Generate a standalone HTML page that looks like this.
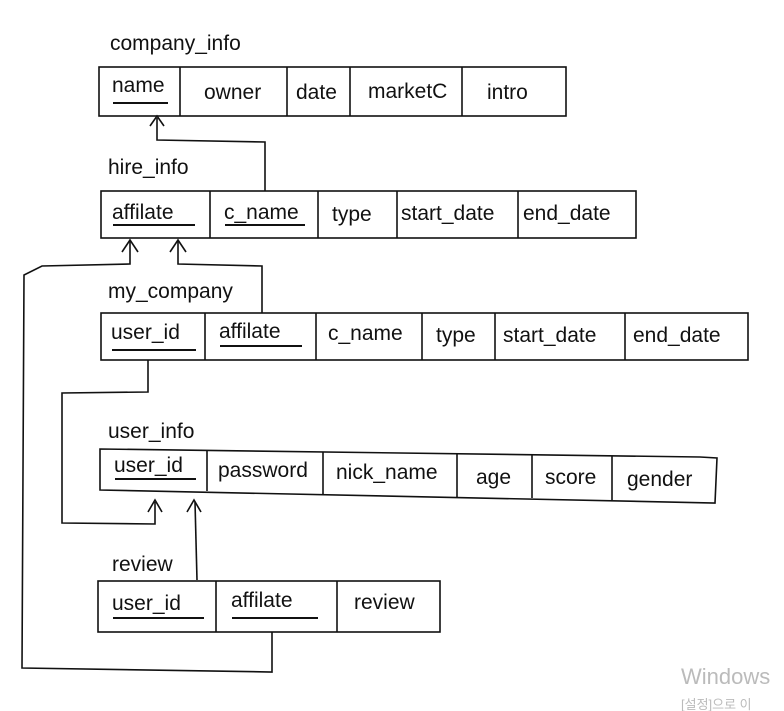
<!DOCTYPE html>
<html><head><meta charset="utf-8"><style>
html,body{margin:0;padding:0;background:#fff;}
svg{display:block}
text{font-family:"Liberation Sans","Noto Sans CJK KR",sans-serif;fill:#111;}
</style></head><body>
<svg width="784" height="711" viewBox="0 0 784 711" xmlns="http://www.w3.org/2000/svg">
<g stroke="#111" stroke-width="1.6" fill="none">
<!-- company_info -->
<rect x="99" y="67" width="467" height="49"/>
<line x1="180" y1="67" x2="180" y2="116"/><line x1="287" y1="67" x2="287" y2="116"/>
<line x1="350" y1="67" x2="350" y2="116"/><line x1="462" y1="67" x2="462" y2="116"/>
<line x1="113" y1="103" x2="168" y2="103" stroke-width="2"/>
<!-- hire_info -->
<rect x="101" y="191" width="535" height="47"/>
<line x1="210" y1="191" x2="210" y2="238"/><line x1="318" y1="191" x2="318" y2="238"/>
<line x1="397" y1="191" x2="397" y2="238"/><line x1="518" y1="191" x2="518" y2="238"/>
<line x1="113" y1="225" x2="195" y2="225" stroke-width="2"/>
<line x1="225" y1="225" x2="305" y2="225" stroke-width="2"/>
<!-- my_company -->
<rect x="101" y="313" width="647" height="47"/>
<line x1="205" y1="313" x2="205" y2="360"/><line x1="316" y1="313" x2="316" y2="360"/>
<line x1="422" y1="313" x2="422" y2="360"/><line x1="495" y1="313" x2="495" y2="360"/>
<line x1="625" y1="313" x2="625" y2="360"/>
<line x1="112" y1="350" x2="196" y2="350" stroke-width="2"/>
<line x1="220" y1="346" x2="302" y2="346" stroke-width="2"/>
<!-- user_info -->
<path d="M100 449 L700 457 L717 458 L715 503 L100 490 Z"/>
<line x1="207" y1="451" x2="207" y2="491"/><line x1="323" y1="452" x2="323" y2="495"/>
<line x1="457" y1="454" x2="457" y2="497"/><line x1="532" y1="455" x2="532" y2="498"/>
<line x1="612" y1="456" x2="612" y2="500"/>
<line x1="115" y1="479" x2="196" y2="479" stroke-width="2"/>
<!-- review -->
<rect x="98" y="581" width="342" height="51"/>
<line x1="216" y1="581" x2="216" y2="632"/><line x1="337" y1="581" x2="337" y2="632"/>
<line x1="113" y1="618" x2="204" y2="618" stroke-width="2"/>
<line x1="232" y1="618" x2="318" y2="618" stroke-width="2"/>
<!-- connectors -->
<polyline points="265,191 265,142 157,140 157,118"/>
<polyline points="150,126 157,116 164,126"/>
<polyline points="262,313 262,266 178,264 178,240"/>
<polyline points="170,252 178,240 186,252"/>
<polyline points="272,632 272,672 22,668 24,275 42,266 130,264 130,240"/>
<polyline points="122,252 130,240 138,252"/>
<polyline points="148,360 148,392 62,393 62,523 155,524 155,502"/>
<polyline points="148,512 155,500 162,512"/>
<polyline points="197,580 195,502"/>
<polyline points="187,512 194,500 201,512"/>
</g>
<g font-size="21">
<text x="110" y="50">company_info</text>
<text x="112" y="92">name</text>
<text x="204" y="99">owner</text>
<text x="296" y="99">date</text>
<text x="368" y="98">marketC</text>
<text x="487" y="99">intro</text>
<text x="108" y="174">hire_info</text>
<text x="112" y="219">affilate</text>
<text x="224" y="219">c_name</text>
<text x="332" y="221">type</text>
<text x="401" y="220">start_date</text>
<text x="523" y="220">end_date</text>
<text x="108" y="298">my_company</text>
<text x="111" y="339">user_id</text>
<text x="219" y="338">affilate</text>
<text x="328" y="340">c_name</text>
<text x="436" y="342">type</text>
<text x="503" y="342">start_date</text>
<text x="633" y="342">end_date</text>
<text x="108" y="438">user_info</text>
<text x="114" y="472">user_id</text>
<text x="218" y="477">password</text>
<text x="336" y="479">nick_name</text>
<text x="476" y="484">age</text>
<text x="545" y="484">score</text>
<text x="627" y="486">gender</text>
<text x="112" y="571">review</text>
<text x="112" y="610">user_id</text>
<text x="231" y="607">affilate</text>
<text x="354" y="609">review</text>
</g>
<text x="681" y="684" font-size="22" style="fill:#bbb">Windows</text>
<text x="681" y="709" font-size="13" style="fill:#bbb">[설정]으로 이</text>
</svg>
</body></html>
